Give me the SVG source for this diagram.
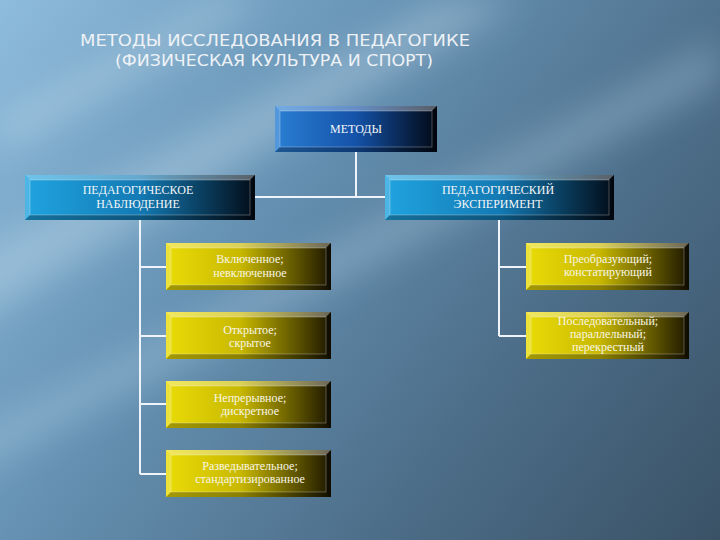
<svg xmlns="http://www.w3.org/2000/svg" width="720" height="540" viewBox="0 0 720 540">
  <defs>
    <linearGradient id="bg" x1="0" y1="0" x2="720" y2="540" gradientUnits="userSpaceOnUse">
      <stop offset="0" stop-color="#8ebcdc"/>
      <stop offset="0.35" stop-color="#6793b4"/>
      <stop offset="0.7" stop-color="#4c6d88"/>
      <stop offset="1" stop-color="#3a5266"/>
    </linearGradient>
    <filter id="blur" x="-20%" y="-20%" width="140%" height="140%">
      <feGaussianBlur stdDeviation="18"/>
    </filter>
    <linearGradient id="gTop" x1="0" y1="0" x2="1" y2="0">
      <stop offset="0" stop-color="#2a7fd4"/>
      <stop offset="0.5" stop-color="#1452a8"/>
      <stop offset="1" stop-color="#020814"/>
    </linearGradient>
    <linearGradient id="gSide" x1="0" y1="0" x2="1" y2="0">
      <stop offset="0" stop-color="#20a4e0"/>
      <stop offset="0.5" stop-color="#137ab4"/>
      <stop offset="1" stop-color="#020c18"/>
    </linearGradient>
    <linearGradient id="gYel" x1="0" y1="0" x2="1" y2="0">
      <stop offset="0" stop-color="#eadc08"/>
      <stop offset="0.45" stop-color="#c8b800"/>
      <stop offset="1" stop-color="#1c1600"/>
    </linearGradient>
    <style>
      .lt { fill: #ffffff; opacity: 0.35; }
      .ll { fill: #ffffff; opacity: 0.2; }
      .lb { fill: #000000; opacity: 0.3; }
      .lr { fill: #000000; opacity: 0.45; }
      .inner { fill: none; stroke: #ffffff; stroke-opacity: 0.35; stroke-width: 0.8; }
      .conn { stroke: #eef4fa; stroke-width: 2; fill: none; }
      .bt { font-family: "Liberation Serif", "Times New Roman", serif; font-size: 12px; fill: #f4f6f8; text-anchor: middle; }
      .yt { font-family: "Liberation Serif", "Times New Roman", serif; font-size: 12px; fill: #f8f6e8; text-anchor: middle; }
      .title { font-family: "DejaVu Sans", "Open Sans", sans-serif; font-size: 16px; fill: #eef2f6; }
    </style>
  </defs>

  <!-- background -->
  <rect x="0" y="0" width="720" height="540" fill="url(#bg)"/>
  <g filter="url(#blur)" opacity="0.35">
    <polygon points="-40,260 -40,330 520,0 440,0" fill="#cfe6f6"/>
    <polygon points="-40,440 -40,480 720,80 720,40" fill="#b8d6ec"/>
    <polygon points="0,120 0,150 260,0 220,0" fill="#e0f0fa"/>
  </g>

  <!-- title -->
  <text class="title" x="80" y="46" textLength="390" lengthAdjust="spacingAndGlyphs">МЕТОДЫ ИССЛЕДОВАНИЯ В ПЕДАГОГИКЕ</text>
  <text class="title" x="115" y="66" textLength="318" lengthAdjust="spacingAndGlyphs">(ФИЗИЧЕСКАЯ КУЛЬТУРА И СПОРТ)</text>

  <!-- connectors -->
  <g id="connectors">
    <path class="conn" d="M356,152 V197 M255,197 H385"/>
    <path class="conn" d="M140,220 V474 M140,267 H166 M140,336 H166 M140,404 H166 M140,474 H166"/>
    <path class="conn" d="M499,220 V336 M499,267 H526 M499,336 H526"/>
  </g>

  <!-- top node -->
  <g id="n-methods">
    <rect x="275" y="106" width="162" height="46" fill="url(#gTop)"/>
    <polygon class="lt" points="275,106 437,106 432,111 280,111"/>
    <polygon class="ll" points="275,106 280,111 280,147 275,152"/>
    <polygon class="lb" points="275,152 280,147 432,147 437,152"/>
    <polygon class="lr" points="437,106 437,152 432,147 432,111"/>
    <rect class="inner" x="280" y="111" width="152" height="36"/>
    <text class="bt" x="356" y="133">МЕТОДЫ</text>
  </g>

  <g id="n-observation">
    <rect x="25" y="175" width="230" height="45" fill="url(#gSide)"/>
    <polygon class="lt" points="25,175 255,175 250,180 30,180"/>
    <polygon class="ll" points="25,175 30,180 30,215 25,220"/>
    <polygon class="lb" points="25,220 30,215 250,215 255,220"/>
    <polygon class="lr" points="255,175 255,220 250,215 250,180"/>
    <rect class="inner" x="30" y="180" width="220" height="35"/>
    <text class="bt" x="138" y="194">ПЕДАГОГИЧЕСКОЕ</text>
    <text class="bt" x="138" y="208">НАБЛЮДЕНИЕ</text>
  </g>

  <g id="n-experiment">
    <rect x="385" y="175" width="229" height="45" fill="url(#gSide)"/>
    <polygon class="lt" points="385,175 614,175 609,180 390,180"/>
    <polygon class="ll" points="385,175 390,180 390,215 385,220"/>
    <polygon class="lb" points="385,220 390,215 609,215 614,220"/>
    <polygon class="lr" points="614,175 614,220 609,215 609,180"/>
    <rect class="inner" x="390" y="180" width="219" height="35"/>
    <text class="bt" x="498" y="194">ПЕДАГОГИЧЕСКИЙ</text>
    <text class="bt" x="498" y="208">ЭКСПЕРИМЕНТ</text>
  </g>

  <!-- left yellow nodes -->
  <g id="n-l1">
    <rect x="166" y="243" width="165" height="47" fill="url(#gYel)"/>
    <polygon class="lt" points="166,243 331,243 326,248 171,248"/>
    <polygon class="ll" points="166,243 171,248 171,285 166,290"/>
    <polygon class="lb" points="166,290 171,285 326,285 331,290"/>
    <polygon class="lr" points="331,243 331,290 326,285 326,248"/>
    <rect class="inner" x="171" y="248" width="155" height="37"/>
    <text class="yt" x="250" y="263">Включенное;</text>
    <text class="yt" x="250" y="277">невключенное</text>
  </g>

  <g id="n-l2">
    <rect x="166" y="312" width="165" height="47" fill="url(#gYel)"/>
    <polygon class="lt" points="166,312 331,312 326,317 171,317"/>
    <polygon class="ll" points="166,312 171,317 171,354 166,359"/>
    <polygon class="lb" points="166,359 171,354 326,354 331,359"/>
    <polygon class="lr" points="331,312 331,359 326,354 326,317"/>
    <rect class="inner" x="171" y="317" width="155" height="37"/>
    <text class="yt" x="250" y="334">Открытое;</text>
    <text class="yt" x="250" y="347">скрытое</text>
  </g>

  <g id="n-l3">
    <rect x="166" y="381" width="165" height="47" fill="url(#gYel)"/>
    <polygon class="lt" points="166,381 331,381 326,386 171,386"/>
    <polygon class="ll" points="166,381 171,386 171,423 166,428"/>
    <polygon class="lb" points="166,428 171,423 326,423 331,428"/>
    <polygon class="lr" points="331,381 331,428 326,423 326,386"/>
    <rect class="inner" x="171" y="386" width="155" height="37"/>
    <text class="yt" x="250" y="402">Непрерывное;</text>
    <text class="yt" x="250" y="415">дискретное</text>
  </g>

  <g id="n-l4">
    <rect x="166" y="450" width="165" height="47" fill="url(#gYel)"/>
    <polygon class="lt" points="166,450 331,450 326,455 171,455"/>
    <polygon class="ll" points="166,450 171,455 171,492 166,497"/>
    <polygon class="lb" points="166,497 171,492 326,492 331,497"/>
    <polygon class="lr" points="331,450 331,497 326,492 326,455"/>
    <rect class="inner" x="171" y="455" width="155" height="37"/>
    <text class="yt" x="250" y="470">Разведывательное;</text>
    <text class="yt" x="250" y="483">стандартизированное</text>
  </g>

  <!-- right yellow nodes -->
  <g id="n-r1">
    <rect x="526" y="243" width="163" height="47" fill="url(#gYel)"/>
    <polygon class="lt" points="526,243 689,243 684,248 531,248"/>
    <polygon class="ll" points="526,243 531,248 531,285 526,290"/>
    <polygon class="lb" points="526,290 531,285 684,285 689,290"/>
    <polygon class="lr" points="689,243 689,290 684,285 684,248"/>
    <rect class="inner" x="531" y="248" width="153" height="37"/>
    <text class="yt" x="608" y="263">Преобразующий;</text>
    <text class="yt" x="608" y="276">констатирующий</text>
  </g>

  <g id="n-r2">
    <rect x="526" y="312" width="163" height="47" fill="url(#gYel)"/>
    <polygon class="lt" points="526,312 689,312 684,317 531,317"/>
    <polygon class="ll" points="526,312 531,317 531,354 526,359"/>
    <polygon class="lb" points="526,359 531,354 684,354 689,359"/>
    <polygon class="lr" points="689,312 689,359 684,354 684,317"/>
    <rect class="inner" x="531" y="317" width="153" height="37"/>
    <text class="yt" x="608" y="325">Последовательный;</text>
    <text class="yt" x="608" y="338">параллельный;</text>
    <text class="yt" x="608" y="351">перекрестный</text>
  </g>
</svg>
